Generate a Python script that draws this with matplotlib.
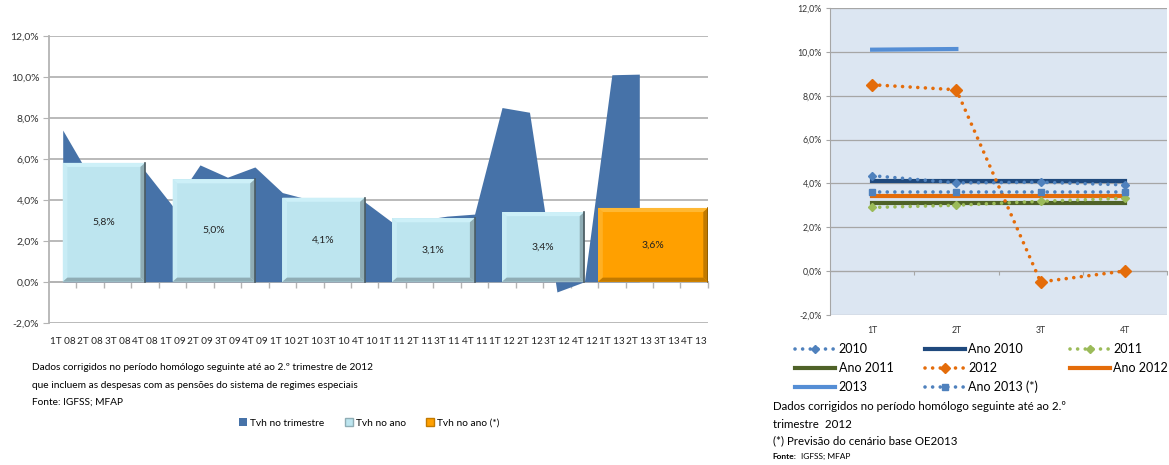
import matplotlib.pyplot as plt
from matplotlib.patches import Polygon, Rectangle
from matplotlib.patches import Patch

plt.rcParams['font.family'] = ['Lato', 'DejaVu Sans']

# Dados trimestrais (taxa de variação homóloga)
trimestres = ['1T 08', '2T 08', '3T 08', '4T 08', '1T 09', '2T 09', '3T 09', '4T 09',
              '1T 10', '2T 10', '3T 10', '4T 10', '1T 11', '2T 11', '3T 11', '4T 11',
              '1T 12', '2T 12', '3T 12', '4T 12', '1T 13', '2T 13', '3T 13', '4T 13']
tvh_trimestre = [7.4, 5.1, 5.4, 5.4, 3.7, 5.7, 5.1, 5.6,
                 4.35, 4.0, 4.05, 3.9, 2.9, 3.0, 3.2, 3.3,
                 8.5, 8.27, -0.5, 0.0, 10.1, 10.13]
anos = ['2008', '2009', '2010', '2011', '2012']
tvh_ano = [5.8, 5.0, 4.1, 3.1, 3.4]
tvh_ano_prev = 3.6
rotulos_ano = ['5,8%', '5,0%', '4,1%', '3,1%', '3,4%']
rotulo_prev = '3,6%'

# Dados do gráfico da direita
quarters = ['1T', '2T', '3T', '4T']
s2010 = [4.35, 4.02, 4.05, 3.93]
ano2010 = [4.1, 4.1, 4.1, 4.1]
s2011 = [2.9, 3.0, 3.18, 3.32]
ano2011 = [3.1, 3.1, 3.1, 3.1]
s2012 = [8.5, 8.27, -0.5, 0.0]
ano2012 = [3.4, 3.4, 3.4, 3.4]
s2013 = [10.1, 10.13]
ano2013 = [3.6, 3.6, 3.6, 3.6]

azul_area = '#4672A8'
grelha = '#B4B4B4'
fmt_pct = lambda v: f'{v:.1f}%'.replace('.', ',')

fig = plt.figure(figsize=(11.69, 4.65), dpi=100)

# ---------- gráfico da esquerda ----------
ax = fig.add_axes([0.0419, 0.306, 0.5637, 0.617])
ax.set_xlim(0, 24)
ax.set_ylim(-2, 12)
for v in range(-2, 13, 2):
    ax.axhline(v, color=grelha, lw=1.3, zorder=0)

xs = [i + 0.5 for i in range(len(tvh_trimestre))]
ax.fill_between(xs, tvh_trimestre, 0, color=azul_area, lw=0, zorder=2)


def caixa(ax, x0, x1, h, face, claro, escuro, borda):
    # caixa com efeito de relevo
    bx, by = 0.17, 0.2
    ax.add_patch(Rectangle((x0, 0), x1 - x0, h, facecolor=face, edgecolor='none', zorder=3))
    ax.add_patch(Polygon([(x0, h), (x1, h), (x1 - bx, h - by), (x0 + bx, h - by)],
                         facecolor=claro, edgecolor='none', zorder=4))
    ax.add_patch(Polygon([(x0, 0), (x0, h), (x0 + bx, h - by), (x0 + bx, by)],
                         facecolor=claro, edgecolor='none', zorder=4, alpha=0.7))
    ax.add_patch(Polygon([(x1, 0), (x1, h), (x1 - bx, h - by), (x1 - bx, by)],
                         facecolor=escuro, edgecolor='none', zorder=4))
    ax.add_patch(Polygon([(x0, 0), (x1, 0), (x1 - bx, by), (x0 + bx, by)],
                         facecolor=escuro, edgecolor='none', zorder=4))
    ax.plot([x1, x1], [0, h], color=borda, lw=1.2, zorder=5)


for i, v in enumerate(tvh_ano):
    caixa(ax, 4 * i + 0.5, 4 * i + 3.5, v, '#BDE5EF', '#CDF0F8', '#8FADB5', '#4A5A60')
    ax.text(4 * i + 2, v / 2, rotulos_ano[i], ha='center', va='center', fontsize=7.5,
            color='#222222', zorder=6)
caixa(ax, 20, 24, tvh_ano_prev, '#FFA000', '#FFB833', '#C27A00', '#8A5A00')
ax.text(22, tvh_ano_prev / 2, rotulo_prev, ha='center', va='center', fontsize=7.5,
        color='#222222', zorder=6)

ax.set_yticks(range(-2, 13, 2))
ax.set_yticklabels([fmt_pct(v) for v in range(-2, 13, 2)], fontsize=7.5, color='#333333')
ax.tick_params(axis='y', length=4, color=grelha, pad=3)
ax.set_xticks([i + 0.5 for i in range(len(trimestres))])
ax.set_xticklabels(trimestres, fontsize=7.2, color='#222222')
ax.tick_params(axis='x', length=0, pad=10)
for s in ['top', 'right', 'bottom']:
    ax.spines[s].set_visible(False)
ax.spines['left'].set_color(grelha)
ax.spines['left'].set_linewidth(1.3)

# eixo horizontal no zero com marcas entre categorias
eixo0 = ax.secondary_xaxis(2 / 14)
eixo0.set_xticks(range(1, 25))
eixo0.set_xticklabels([])
eixo0.tick_params(length=4, color=grelha, width=1)
eixo0.spines['bottom'].set_color(grelha)
eixo0.spines['bottom'].set_linewidth(1.3)

fig.text(0.0274, 0.209, 'Dados corrigidos no período homólogo seguinte até ao 2.º trimestre de 2012',
         fontsize=7.3, va='center')
fig.text(0.0274, 0.172, 'que incluem as despesas com as pensões do sistema de regimes especiais',
         fontsize=7.3, va='center')
fig.text(0.0274, 0.135, 'Fonte: IGFSS; MFAP', fontsize=7.3, va='center')

leg_h = [Patch(facecolor=azul_area), Patch(facecolor='#BDE5EF', edgecolor='#8FADB5'),
         Patch(facecolor='#FFA000', edgecolor='#C27A00')]
fig.legend(leg_h, ['Tvh no trimestre', 'Tvh no ano', 'Tvh no ano (*)'],
           loc='center', bbox_to_anchor=(0.316, 0.09), ncol=3, frameon=False,
           fontsize=7.3, handlelength=0.8, handleheight=0.8, handletextpad=0.3,
           columnspacing=2.0)

# ---------- gráfico da direita ----------
ax2 = fig.add_axes([0.710, 0.323, 0.2883, 0.6597])
ax2.set_facecolor('#DCE6F2')
ax2.set_xlim(0, 4)
ax2.set_ylim(-2, 12)
for v in range(-2, 13, 2):
    ax2.axhline(v, color='#A6A6A6', lw=0.9, zorder=0)

pontilhado = (0, (0.01, 2.1))
qx = [i + 0.5 for i in range(4)]
ax2.plot(qx, ano2010, color='#1F497D', lw=3, label='Ano 2010', zorder=3)
ax2.plot(qx, ano2011, color='#4F6228', lw=3, label='Ano 2011', zorder=3)
ax2.plot(qx, ano2012, color='#E46C0A', lw=3, label='Ano 2012', zorder=3)
ax2.plot(qx[:2], s2013, color='#558ED5', lw=3, label='2013', zorder=3)
ax2.plot(qx, s2010, color='#4F81BD', lw=2.6, ls=pontilhado, dash_capstyle='round',
         marker='D', ms=4.2, label='2010', zorder=4)
ax2.plot(qx, s2011, color='#9BBB59', lw=2.6, ls=pontilhado, dash_capstyle='round',
         marker='D', ms=4.2, label='2011', zorder=4)
ax2.plot(qx, s2012, color='#E46C0A', lw=2.6, ls=pontilhado, dash_capstyle='round',
         marker='D', ms=5.8, label='2012', zorder=4)
ax2.plot(qx, ano2013, color='#4F81BD', lw=2.6, ls=pontilhado, dash_capstyle='round',
         marker='s', ms=5, label='Ano 2013 (*)', zorder=4)

ax2.set_yticks(range(-2, 13, 2))
ax2.set_yticklabels([fmt_pct(v) for v in range(-2, 13, 2)], fontsize=6.3, color='#333333')
ax2.tick_params(axis='y', length=3, color='#A6A6A6', pad=3)
ax2.set_xticks(qx)
ax2.set_xticklabels(quarters, fontsize=6.3, color='#333333')
ax2.tick_params(axis='x', length=0, pad=8)
for s in ['top', 'right', 'bottom']:
    ax2.spines[s].set_visible(False)
ax2.spines['left'].set_color('#A6A6A6')
eixo2 = ax2.secondary_xaxis(2 / 14)
eixo2.set_xticks(range(1, 5))
eixo2.set_xticklabels([])
eixo2.tick_params(length=3, color='#A6A6A6')
eixo2.spines['bottom'].set_color('#A6A6A6')

hnd, lbl = ax2.get_legend_handles_labels()
ordem = ['2010', 'Ano 2010', '2011', 'Ano 2011', '2012', 'Ano 2012', '2013', 'Ano 2013 (*)']
pares = {l: h for h, l in zip(hnd, lbl)}
# a legenda lê-se por linhas: reordenar para o preenchimento por colunas
ordem_col = [ordem[i] for i in (0, 3, 6, 1, 4, 7, 2, 5)]
fig.legend([pares[l] for l in ordem_col], ordem_col, loc='upper left',
           bbox_to_anchor=(0.680, 0.262), ncol=3, frameon=False, fontsize=9,
           handlelength=3.2, handletextpad=0.3, columnspacing=2.5, labelspacing=0.55,
           borderaxespad=0, borderpad=0, markerscale=0.9)

fig.text(0.661, 0.125, 'Dados corrigidos no período homólogo seguinte até ao 2.º',
         fontsize=8.3, va='center')
fig.text(0.661, 0.088, 'trimestre  2012', fontsize=8.3, va='center')
fig.text(0.661, 0.051, '(*) Previsão do cenário base OE2013', fontsize=8.3, va='center')
fig.text(0.661, 0.019, 'Fonte:', fontsize=6, va='center', fontweight='bold')
fig.text(0.6852, 0.019, 'IGFSS; MFAP', fontsize=6, va='center')

fig.savefig('out.png', dpi=100)
